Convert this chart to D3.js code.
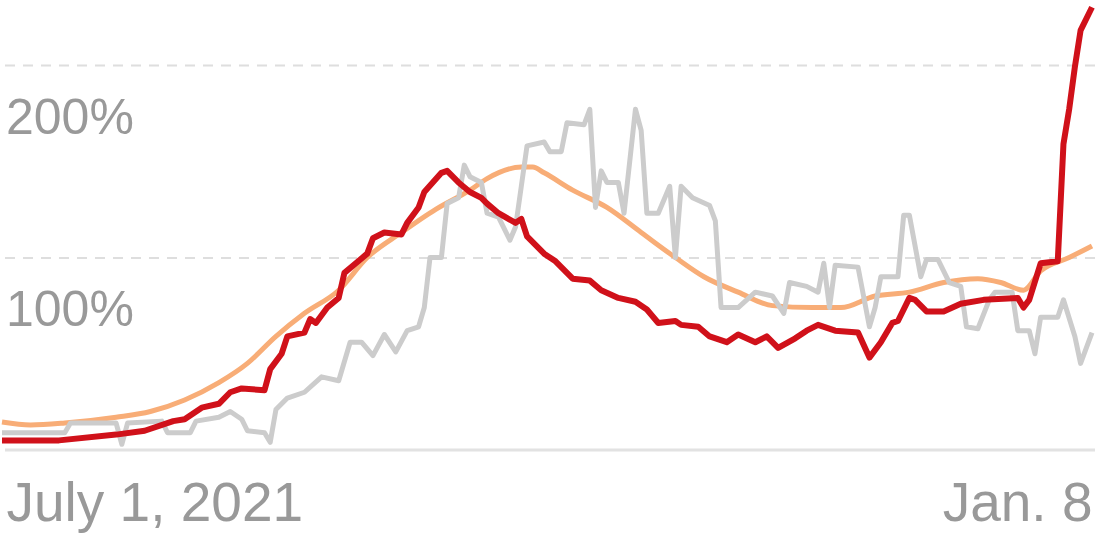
<!DOCTYPE html>
<html lang="en">
<head>
<meta charset="utf-8">
<script src="https://d3js.org/d3.v7.min.js"></script>
<style>
  body { margin: 0; background: #fff; }
  svg { display: block; font-family: "Liberation Sans", Arial, sans-serif; }
  .tick text { fill: #999; }
</style>
</head>
<body>
<div id="chart"></div>
<script>
// [days since July 1, 2021, percent]
var grayPts = [[0,9],[11,9],[12,14],[20,14],[21,3],[22,14],[28,15],[29,9],[33,9],[34,15],[38,17],[40,20],
  [42,16],[43,10],[46,9],[47,4],[48,21],[50,27],[53,30],[56,38],[59,36],[61,56],[63,56],[65,49],[67,60],
  [69,51],[71,62],[73,64],[74,74],[75,100],[77,100],[78,128],[80,131],[81,148],[82,142],[84,139],[85,123],
  [87,121],[89,109],[90,116],[91,137],[92,158],[95,160],[96,155],[98,155],[99,170],[102,169],[103,177],
  [104,126],[105,145],[106,139],[108,139],[109,123],[111,177],[112,166],[113,123],[115,123],[117,137],
  [118,100],[119,137],[121,131],[124,127],[125,119],[126,74],[129,74],[132,82],[135,80],[137,71],[138,87],
  [141,85],[143,82],[144,97],[145,74],[146,96],[150,95],[152,64],[153,74],[154,90],[157,90],[158,122],
  [159,122],[161,90],[162,99],[164,99],[166,87],[168,85],[169,64],[171,63],[173,78],[174,82],[177,82],
  [178,62],[180,62],[181,50],[182,69],[185,69],[186,78],[188,59],[189,45],[191,61]];

var orangePts = [[0,14.5],[5,13],[11,14],[20,17],[26,20],[32,26],[38,35],[43,45],[48,59],[53,71],[59,83],
  [64,100],[70,113],[76,125],[82,135],[85,141],[91,147],[93,147],[95,144],[100,135],[106,126],[112,113],
  [118,100],[123,90],[129,82],[135,75],[142,74],[147,74],[153,80],[159,82],[165,87],[171,89],[175,87],
  [179,83],[182,93],[187,100],[191,106]];

var redPts = [[0,5],[10,5],[20,8],[25,10],[30,15],[32,16],[35,22],[38,24],[40,30],[42,32],[46,31],[47,42],
  [49,50],[50,59],[53,61],[54,68],[55,66],[57,74],[59,79],[60,92],[62,97],[64,102],[65,110],[67,113],
  [70,112],[71,118],[73,126],[74,134],[77,144],[78,145],[80,139],[82,134],[84,131],[85,128],[87,123],
  [90,118],[91,120],[92,111],[95,102],[97,98],[100,89],[103,88],[105,83],[108,79],[111,77],[113,73],
  [115,66],[118,67],[119,65],[122,64],[124,59],[127,56],[129,60],[132,56],[134,59],[136,53],[139,58],
  [141,62],[143,65],[146,62],[150,61],[152,48],[154,56],[156,66],[157,67],[159,79],[160,78],[162,72],
  [165,72],[168,76],[172,78],[178,79],[179,74],[180,78],[182,97],[185,98],[186,159],[187,177],[188,199],
  [189,218],[191,230]];

var yTicks = [100, 200];
var startDate = new Date(2021, 6, 1);
var endDate = new Date(2022, 0, 8);
var xLabels = ["July 1, 2021", "Jan. 8"];

var W = 1095, H = 534;

var svg = d3.select("#chart").append("svg")
    .attr("width", W)
    .attr("height", H);

var x = d3.scaleTime().domain([startDate, endDate]).range([2, 1092]);
var y = d3.scaleLinear().domain([0, 200]).range([450, 65]);

function toDate(d) { return d3.timeDay.offset(startDate, d[0]); }

// y gridlines + labels (labels sit under their line)
var yAxis = svg.append("g")
    .attr("transform", "translate(5,0)")
    .call(d3.axisRight(y).tickValues(yTicks).tickSize(W - 5).tickFormat(function(d) { return d + "%"; }));
yAxis.select(".domain").remove();
yAxis.selectAll(".tick line")
    .attr("stroke", "#dedede")
    .attr("stroke-width", 2)
    .attr("stroke-dasharray", "10,8");
yAxis.selectAll(".tick text")
    .attr("x", 1)
    .attr("dy", 68)
    .attr("font-size", 50)
    .attr("text-anchor", "start");

// baseline
svg.append("line")
    .attr("x1", 5).attr("x2", W)
    .attr("y1", y(0)).attr("y2", y(0))
    .attr("stroke", "#e2e2e2")
    .attr("stroke-width", 3);

// x labels
var xAxis = svg.append("g")
    .attr("transform", "translate(0,450)")
    .call(d3.axisBottom(x).tickValues([startDate, endDate]).tickSize(0)
        .tickFormat(function(d, i) { return xLabels[i]; }));
xAxis.select(".domain").remove();
xAxis.selectAll(".tick text")
    .attr("font-size", 55)
    .attr("dy", 0)
    .attr("y", 71)
    .attr("text-anchor", function(d, i) { return i === 0 ? "start" : "end"; })
    .attr("dx", function(d, i) { return i === 0 ? 4 : 0; });

var line = d3.line()
    .x(function(d) { return x(toDate(d)); })
    .y(function(d) { return y(d[1]); });

svg.append("path")
    .datum(orangePts)
    .attr("fill", "none")
    .attr("stroke", "#f8ad77")
    .attr("stroke-width", 5)
    .attr("d", line.curve(d3.curveMonotoneX));

svg.append("path")
    .datum(grayPts)
    .attr("fill", "none")
    .attr("stroke", "#cccccc")
    .attr("stroke-width", 5)
    .attr("stroke-linejoin", "round")
    .attr("d", line.curve(d3.curveLinear));

svg.append("path")
    .datum(redPts)
    .attr("fill", "none")
    .attr("stroke", "#d0111a")
    .attr("stroke-width", 6)
    .attr("stroke-linejoin", "round")
    .attr("d", line.curve(d3.curveLinear));
</script>
</body>
</html>
